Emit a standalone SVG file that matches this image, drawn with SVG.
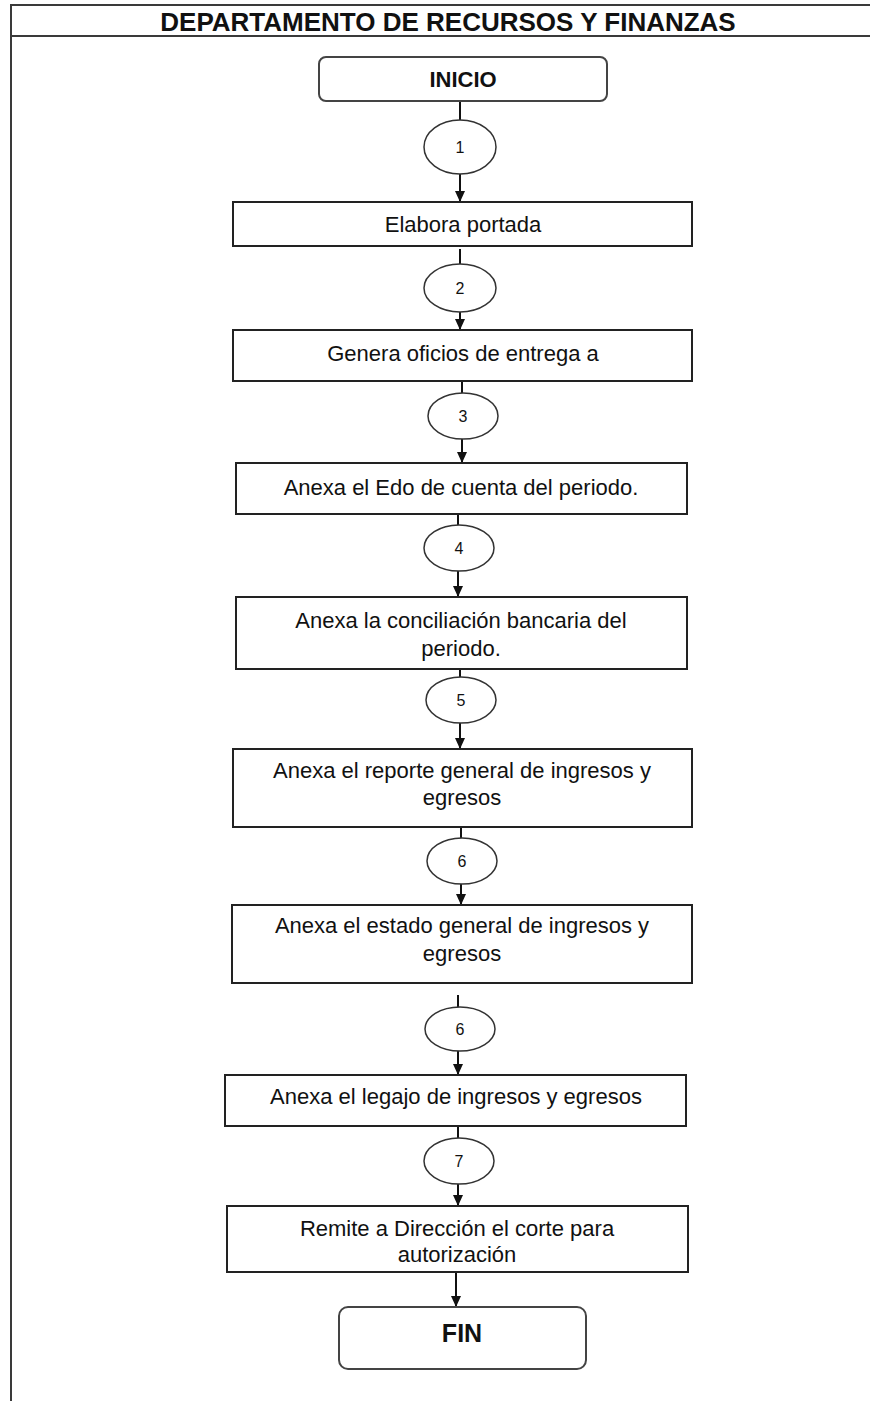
<svg xmlns="http://www.w3.org/2000/svg" width="870" height="1401" viewBox="0 0 870 1401">
  <style>
    .frame { fill: none; stroke: #3a3a3a; stroke-width: 2; }
    .box { fill: #ffffff; stroke: #222222; stroke-width: 2; }
    .term { fill: #ffffff; stroke: #444444; stroke-width: 2; }
    .oval { fill: #ffffff; stroke: #333333; stroke-width: 1.5; }
    .wire { fill: none; stroke: #111111; stroke-width: 2; }
    .title { font-family: "Liberation Sans", Arial, sans-serif; font-weight: bold; font-size: 26px; fill: #111111; text-anchor: middle; }
    .label { font-family: "Liberation Sans", Arial, sans-serif; font-size: 22px; fill: #111111; text-anchor: middle; }
    .termtext { font-family: "Liberation Sans", Arial, sans-serif; font-weight: bold; font-size: 22px; fill: #111111; text-anchor: middle; }
    .num { font-family: "Liberation Sans", Arial, sans-serif; font-size: 16px; fill: #111111; text-anchor: middle; }
  </style>
  <defs>
    <marker id="arrow" markerUnits="userSpaceOnUse" markerWidth="12" markerHeight="12" viewBox="0 0 12 12" refX="11" refY="6" orient="auto">
      <path d="M0,1 L11,6 L0,11 Z" fill="#111111"/>
    </marker>
  </defs>

  <rect width="870" height="1401" fill="#ffffff"/>

  <!-- swimlane frame and header -->
  <g id="lane">
    <path class="frame" d="M11,1401 L11,5 L872,5 M11,36 L872,36"/>
    <text class="title" x="448" y="31">DEPARTAMENTO DE RECURSOS Y FINANZAS</text>
  </g>

  <!-- connectors -->
  <g id="connectors">
    <line class="wire" x1="460" y1="101" x2="460" y2="120"/>
    <line class="wire" x1="460" y1="174" x2="460" y2="202" marker-end="url(#arrow)"/>
    <line class="wire" x1="460" y1="249" x2="460" y2="264"/>
    <line class="wire" x1="460" y1="312" x2="460" y2="330" marker-end="url(#arrow)"/>
    <line class="wire" x1="462" y1="381" x2="462" y2="393"/>
    <line class="wire" x1="462" y1="439" x2="462" y2="463" marker-end="url(#arrow)"/>
    <line class="wire" x1="458" y1="514" x2="458" y2="525"/>
    <line class="wire" x1="458" y1="571" x2="458" y2="597" marker-end="url(#arrow)"/>
    <line class="wire" x1="460" y1="669" x2="460" y2="677"/>
    <line class="wire" x1="460" y1="723" x2="460" y2="749" marker-end="url(#arrow)"/>
    <line class="wire" x1="461" y1="827" x2="461" y2="838"/>
    <line class="wire" x1="461" y1="884" x2="461" y2="905" marker-end="url(#arrow)"/>
    <line class="wire" x1="458" y1="995" x2="458" y2="1007"/>
    <line class="wire" x1="458" y1="1051" x2="458" y2="1075" marker-end="url(#arrow)"/>
    <line class="wire" x1="458" y1="1126" x2="458" y2="1138"/>
    <line class="wire" x1="458" y1="1184" x2="458" y2="1206" marker-end="url(#arrow)"/>
    <line class="wire" x1="456" y1="1272" x2="456" y2="1307" marker-end="url(#arrow)"/>
  </g>

  <!-- start -->
  <g id="inicio">
    <rect class="term" x="319" y="57" width="288" height="44" rx="7"/>
    <text class="termtext" x="463" y="87">INICIO</text>
  </g>

  <!-- step markers -->
  <g id="c1"><ellipse class="oval" cx="460" cy="147" rx="36" ry="27"/><text class="num" x="460" y="153">1</text></g>
  <g id="c2"><ellipse class="oval" cx="460" cy="288" rx="36" ry="24"/><text class="num" x="460" y="294">2</text></g>
  <g id="c3"><ellipse class="oval" cx="463" cy="416" rx="35" ry="23"/><text class="num" x="463" y="422">3</text></g>
  <g id="c4"><ellipse class="oval" cx="459" cy="548" rx="35" ry="23"/><text class="num" x="459" y="554">4</text></g>
  <g id="c5"><ellipse class="oval" cx="461" cy="700" rx="35" ry="23"/><text class="num" x="461" y="706">5</text></g>
  <g id="c6a"><ellipse class="oval" cx="462" cy="861" rx="35" ry="23"/><text class="num" x="462" y="867">6</text></g>
  <g id="c6b"><ellipse class="oval" cx="460" cy="1029" rx="35" ry="22"/><text class="num" x="460" y="1035">6</text></g>
  <g id="c7"><ellipse class="oval" cx="459" cy="1161" rx="35" ry="23"/><text class="num" x="459" y="1167">7</text></g>

  <!-- process steps -->
  <g id="s1">
    <rect class="box" x="233" y="202" width="459" height="44"/>
    <text class="label" x="463" y="232">Elabora portada</text>
  </g>
  <g id="s2">
    <rect class="box" x="233" y="330" width="459" height="51"/>
    <text class="label" x="463" y="361">Genera oficios de entrega a</text>
  </g>
  <g id="s3">
    <rect class="box" x="236" y="463" width="451" height="51"/>
    <text class="label" x="461" y="495">Anexa el Edo de cuenta del periodo.</text>
  </g>
  <g id="s4">
    <rect class="box" x="236" y="597" width="451" height="72"/>
    <text class="label" x="461" y="628">Anexa la conciliación bancaria del</text>
    <text class="label" x="461" y="656">periodo.</text>
  </g>
  <g id="s5">
    <rect class="box" x="233" y="749" width="459" height="78"/>
    <text class="label" x="462" y="778">Anexa el reporte general de ingresos y</text>
    <text class="label" x="462" y="805">egresos</text>
  </g>
  <g id="s6">
    <rect class="box" x="232" y="905" width="460" height="78"/>
    <text class="label" x="462" y="933">Anexa el estado general de ingresos y</text>
    <text class="label" x="462" y="961">egresos</text>
  </g>
  <g id="s7">
    <rect class="box" x="225" y="1075" width="461" height="51"/>
    <text class="label" x="456" y="1104">Anexa el legajo de ingresos y egresos</text>
  </g>
  <g id="s8">
    <rect class="box" x="227" y="1206" width="461" height="66"/>
    <text class="label" x="457" y="1236">Remite a Dirección el corte para</text>
    <text class="label" x="457" y="1262">autorización</text>
  </g>

  <!-- end -->
  <g id="fin">
    <rect class="term" x="339" y="1307" width="247" height="62" rx="9"/>
    <text class="termtext" x="462" y="1342" style="font-size:25px">FIN</text>
  </g>
</svg>
